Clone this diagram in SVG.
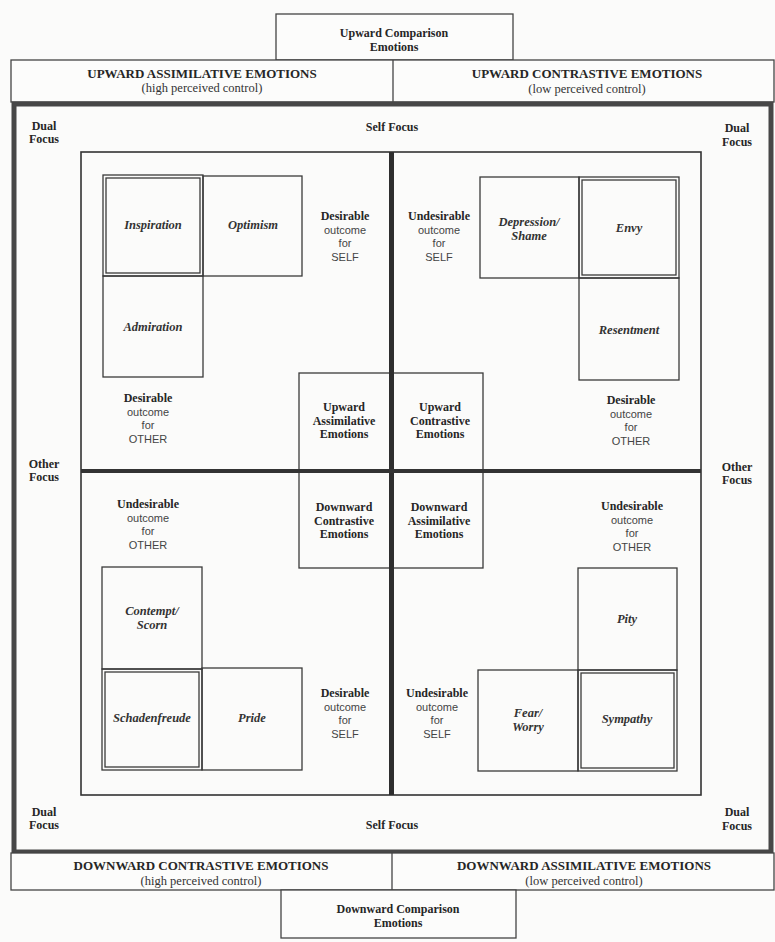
<svg xmlns="http://www.w3.org/2000/svg" width="775" height="942" viewBox="0 0 775 942">
<style>
  .bg{fill:#fbfbfa}
  .box{fill:none;stroke:#3a3a3a;stroke-width:1.3}
  .hdr{fill:#fcfcfb;stroke:#444;stroke-width:1.3}
  .b{font-family:"Liberation Serif","Times New Roman",serif;font-weight:bold;font-size:13px;fill:#262626;text-anchor:middle}
  .l{font-family:"Liberation Serif","Times New Roman",serif;font-weight:bold;font-size:12px;fill:#262626;text-anchor:middle}
  .r{font-family:"Liberation Serif","Times New Roman",serif;font-size:12.5px;fill:#333;text-anchor:middle}
  .s{font-family:"Liberation Sans",Arial,sans-serif;font-size:11px;fill:#444;text-anchor:middle}
  .e{font-family:"Liberation Serif","Times New Roman",serif;font-weight:bold;font-style:italic;font-size:12.5px;fill:#333;text-anchor:middle}
</style>
<rect class="bg" x="0" y="0" width="775" height="942"/>

<g id="top-box">
  <rect class="hdr" x="276" y="14" width="237" height="46"/>
  <text class="l" x="394" y="37">Upward Comparison</text>
  <text class="l" x="394" y="51">Emotions</text>
</g>
<g id="top-header">
  <rect class="hdr" x="11" y="60" width="763" height="42"/>
  <line x1="393" y1="60" x2="393" y2="102" stroke="#444" stroke-width="1.3"/>
  <text class="b" x="202" y="78">UPWARD ASSIMILATIVE EMOTIONS</text>
  <text class="r" x="202" y="92">(high perceived control)</text>
  <text class="b" x="587" y="78">UPWARD CONTRASTIVE EMOTIONS</text>
  <text class="r" x="587" y="93">(low perceived control)</text>
</g>

<g id="frame">
  <rect x="14" y="104" width="757" height="748" fill="none" stroke="#474747" stroke-width="5"/>
  <rect x="81" y="152" width="620" height="643" fill="none" stroke="#333" stroke-width="1.6"/>
</g>

<g id="focus-labels">
  <text class="l" x="44" y="130">Dual</text>
  <text class="l" x="44" y="143">Focus</text>
  <text class="l" x="392" y="131">Self Focus</text>
  <text class="l" x="737" y="132">Dual</text>
  <text class="l" x="737" y="146">Focus</text>
  <text class="l" x="44" y="468">Other</text>
  <text class="l" x="44" y="481">Focus</text>
  <text class="l" x="737" y="471">Other</text>
  <text class="l" x="737" y="484">Focus</text>
  <text class="l" x="44" y="816">Dual</text>
  <text class="l" x="44" y="829">Focus</text>
  <text class="l" x="392" y="829">Self Focus</text>
  <text class="l" x="737" y="816">Dual</text>
  <text class="l" x="737" y="830">Focus</text>
</g>

<g id="center-boxes">
  <g id="upward-assimilative">
    <rect class="box" x="299" y="373" width="92" height="98"/>
    <text class="l" x="344" y="411">Upward</text>
    <text class="l" x="344" y="424.5">Assimilative</text>
    <text class="l" x="344" y="438">Emotions</text>
  </g>
  <g id="upward-contrastive">
    <rect class="box" x="391" y="373" width="92" height="98"/>
    <text class="l" x="440" y="411">Upward</text>
    <text class="l" x="440" y="424.5">Contrastive</text>
    <text class="l" x="440" y="438">Emotions</text>
  </g>
  <g id="downward-contrastive">
    <rect class="box" x="299" y="471" width="92" height="97"/>
    <text class="l" x="344" y="511">Downward</text>
    <text class="l" x="344" y="524.5">Contrastive</text>
    <text class="l" x="344" y="538">Emotions</text>
  </g>
  <g id="downward-assimilative">
    <rect class="box" x="391" y="471" width="92" height="97"/>
    <text class="l" x="439" y="511">Downward</text>
    <text class="l" x="439" y="524.5">Assimilative</text>
    <text class="l" x="439" y="538">Emotions</text>
  </g>
</g>

<g id="connectors">
  <line x1="391.5" y1="152" x2="391.5" y2="795" stroke="#2e2e2e" stroke-width="5"/>
  <line x1="81" y1="471" x2="701" y2="471" stroke="#333" stroke-width="4"/>
</g>

<g id="inspiration">
  <rect class="box" x="103" y="175" width="100" height="101"/>
  <rect class="box" x="106" y="178" width="94" height="95"/>
  <text class="e" x="153" y="229">Inspiration</text>
</g>
<g id="optimism">
  <rect class="box" x="203" y="176" width="99" height="100"/>
  <text class="e" x="253" y="229">Optimism</text>
</g>
<g id="admiration">
  <rect class="box" x="103" y="276" width="100" height="101"/>
  <text class="e" x="153" y="331">Admiration</text>
</g>

<g id="depression-shame">
  <rect class="box" x="480" y="177" width="99" height="101"/>
  <text class="e" x="529" y="226">Depression/</text>
  <text class="e" x="529" y="240">Shame</text>
</g>
<g id="envy">
  <rect class="box" x="579" y="177" width="100" height="101"/>
  <rect class="box" x="582" y="180" width="94" height="95"/>
  <text class="e" x="629" y="232">Envy</text>
</g>
<g id="resentment">
  <rect class="box" x="579" y="278" width="100" height="102"/>
  <text class="e" x="629" y="334">Resentment</text>
</g>

<g id="contempt-scorn">
  <rect class="box" x="102" y="567" width="100" height="102"/>
  <text class="e" x="152" y="615">Contempt/</text>
  <text class="e" x="152" y="629">Scorn</text>
</g>
<g id="schadenfreude">
  <rect class="box" x="102" y="669" width="100" height="101"/>
  <rect class="box" x="105" y="672" width="94" height="95"/>
  <text class="e" x="152" y="722">Schadenfreude</text>
</g>
<g id="pride">
  <rect class="box" x="202" y="668" width="100" height="102"/>
  <text class="e" x="252" y="722">Pride</text>
</g>

<g id="pity">
  <rect class="box" x="578" y="568" width="99" height="102"/>
  <text class="e" x="627" y="623">Pity</text>
</g>
<g id="fear-worry">
  <rect class="box" x="478" y="670" width="100" height="101"/>
  <text class="e" x="528" y="717">Fear/</text>
  <text class="e" x="528" y="731">Worry</text>
</g>
<g id="sympathy">
  <rect class="box" x="578" y="670" width="99" height="101"/>
  <rect class="box" x="581" y="673" width="93" height="95"/>
  <text class="e" x="627" y="723">Sympathy</text>
</g>

<g id="outcome-labels">
  <text class="l" x="345" y="220">Desirable</text>
  <text class="s" x="345" y="233.5">outcome</text>
  <text class="s" x="345" y="247">for</text>
  <text class="s" x="345" y="260.5">SELF</text>

  <text class="l" x="148" y="402">Desirable</text>
  <text class="s" x="148" y="415.5">outcome</text>
  <text class="s" x="148" y="429">for</text>
  <text class="s" x="148" y="442.5">OTHER</text>

  <text class="l" x="439" y="220">Undesirable</text>
  <text class="s" x="439" y="233.5">outcome</text>
  <text class="s" x="439" y="247">for</text>
  <text class="s" x="439" y="260.5">SELF</text>

  <text class="l" x="631" y="404">Desirable</text>
  <text class="s" x="631" y="417.5">outcome</text>
  <text class="s" x="631" y="431">for</text>
  <text class="s" x="631" y="444.5">OTHER</text>

  <text class="l" x="148" y="508">Undesirable</text>
  <text class="s" x="148" y="521.5">outcome</text>
  <text class="s" x="148" y="535">for</text>
  <text class="s" x="148" y="548.5">OTHER</text>

  <text class="l" x="345" y="697">Desirable</text>
  <text class="s" x="345" y="710.5">outcome</text>
  <text class="s" x="345" y="724">for</text>
  <text class="s" x="345" y="737.5">SELF</text>

  <text class="l" x="632" y="510">Undesirable</text>
  <text class="s" x="632" y="523.5">outcome</text>
  <text class="s" x="632" y="537">for</text>
  <text class="s" x="632" y="550.5">OTHER</text>

  <text class="l" x="437" y="697">Undesirable</text>
  <text class="s" x="437" y="710.5">outcome</text>
  <text class="s" x="437" y="724">for</text>
  <text class="s" x="437" y="737.5">SELF</text>
</g>

<g id="bottom-header">
  <rect class="hdr" x="11" y="853" width="763" height="37"/>
  <line x1="392" y1="853" x2="392" y2="890" stroke="#444" stroke-width="1.3"/>
  <text class="b" x="201" y="870">DOWNWARD CONTRASTIVE EMOTIONS</text>
  <text class="r" x="201" y="885">(high perceived control)</text>
  <text class="b" x="584" y="870">DOWNWARD ASSIMILATIVE EMOTIONS</text>
  <text class="r" x="584" y="885">(low perceived control)</text>
</g>
<g id="bottom-box">
  <rect class="hdr" x="281" y="890" width="235" height="48"/>
  <text class="l" x="398" y="913">Downward Comparison</text>
  <text class="l" x="398" y="927">Emotions</text>
</g>
</svg>
